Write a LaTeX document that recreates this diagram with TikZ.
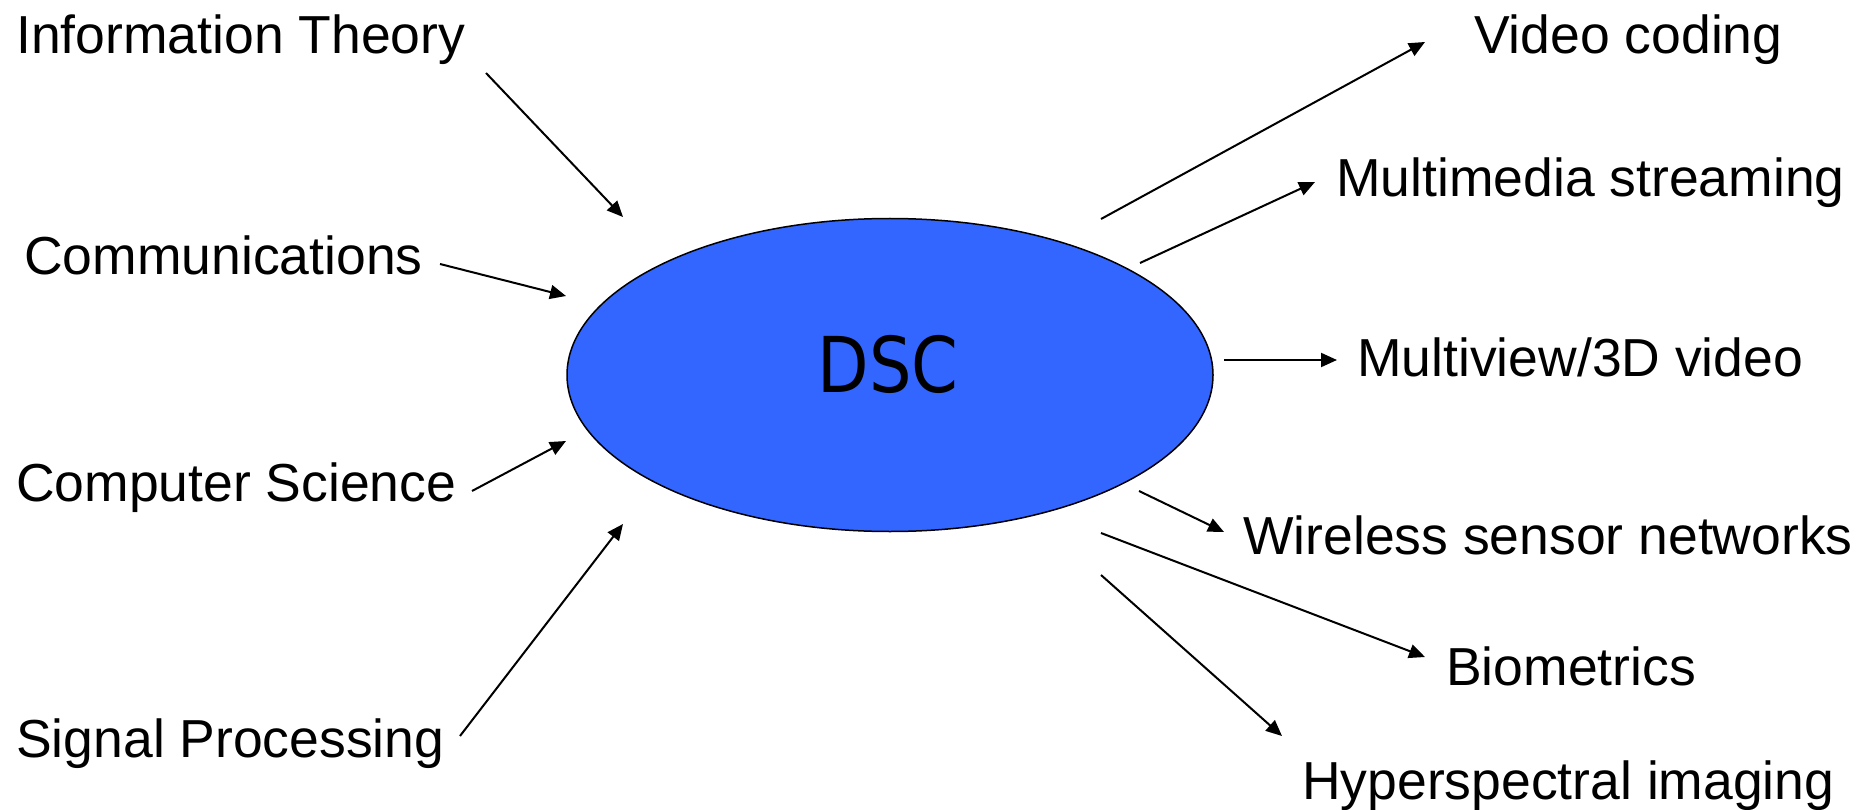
\documentclass[tikz,border=0pt]{standalone}
\usepackage{fontspec}
\setmainfont{Liberation Sans}
\newfontfamily\dscfont[FakeStretch=0.87]{DejaVu Sans}
\usetikzlibrary{arrows.meta,positioning,shapes.geometric}
\definecolor{dscblue}{HTML}{3366FF}

\begin{document}
\begin{tikzpicture}[
        x=1pt, y=-1pt,
        lblstyle/.style={anchor=base west, inner sep=0pt, font=\fontsize{53.5}{60}\selectfont},
        dscstyle/.style={ellipse, draw=black, line width=1.5pt, fill=dscblue, minimum width=646pt, minimum height=313pt, inner sep=0pt},
        pathstyle/.style={line width=2pt, -{Triangle[length=16pt, width=14pt]}}
      ]
        \useasboundingbox (0,0) rectangle (1873,810);

        \node[dscstyle] (DSC) at (890,375) {};
        \node[anchor=base, inner sep=0pt, font=\dscfont\fontsize{77}{80}\selectfont] (DSCTXT)
          at (888,392) {DSC};

        % fields feeding in
        \node[lblstyle] (INFO) at (16,54) {Information Theory};
        \node[lblstyle] (COMM) at (24,275) {Communications};
        \node[lblstyle] (CS) at (16,501) {Computer Science};
        \node[lblstyle] (SP) at (16,757) {Signal Processing};

        % applications
        \node[lblstyle] (VC) at (1474,54) {Video coding};
        \node[lblstyle] (MS) at (1336,197) {Multimedia streaming};
        \node[lblstyle] (MV) at (1357,376) {Multiview/3D video};
        \node[lblstyle] (WSN) at (1243,554) {Wireless sensor networks};
        \node[lblstyle] (BIO) at (1446,685) {Biometrics};
        \node[lblstyle] (HSI) at (1302,799) {Hyperspectral imaging};

        \coordinate (INFO-A) at (486,73);   \coordinate (INFO-B) at (623,217);
        \coordinate (COMM-A) at (440,264);  \coordinate (COMM-B) at (566,296);
        \coordinate (CS-A) at (472,491);    \coordinate (CS-B) at (566,441);
        \coordinate (SP-A) at (460,736);    \coordinate (SP-B) at (623,524);
        \coordinate (VC-A) at (1101,219);   \coordinate (VC-B) at (1425,42);
        \coordinate (MS-A) at (1140,263);   \coordinate (MS-B) at (1315,182);
        \coordinate (MV-A) at (1224,360);   \coordinate (MV-B) at (1337,360);
        \coordinate (WSN-A) at (1139,491);  \coordinate (WSN-B) at (1224,532);
        \coordinate (BIO-A) at (1101,533);  \coordinate (BIO-B) at (1425,657);
        \coordinate (HSI-A) at (1101,575);  \coordinate (HSI-B) at (1282,736);

        \foreach \n in {INFO,COMM,CS,SP,VC,MS,MV,WSN,BIO,HSI}
          \draw[pathstyle] (\n-A) -- (\n-B);
      \end{tikzpicture}
\end{document}
